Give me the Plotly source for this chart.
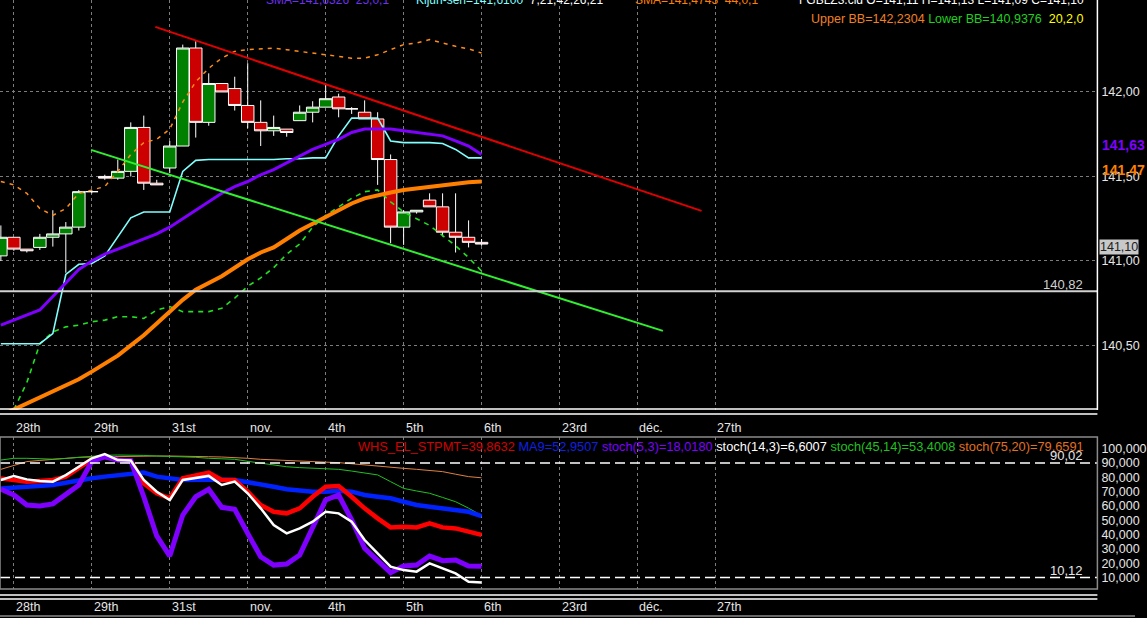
import plotly.graph_objects as go

W, H = 1147, 618

# candle index (one bar per session)
idx = list(range(38))

# OHLC
opens = [141.03, 141.14, 141.07, 141.08, 141.14, 141.16, 141.20, 141.41, 141.50, 141.49,
         141.53, 141.79, 141.46, 141.55, 141.68, 142.26, 141.82, 142.05, 142.02, 141.92,
         141.82, 141.77, 141.78, 141.83, 141.88, 141.91, 141.97, 141.90, 141.88, 141.84,
         141.60, 141.20, 141.29, 141.36, 141.32, 141.17, 141.14, 141.11]
highs = [141.21, 141.14, 141.07, 141.16, 141.30, 141.23, 141.42, 141.42, 141.51, 141.60,
         141.82, 141.86, 141.48, 141.71, 142.28, 142.30, 142.11, 142.05, 142.09, 142.17,
         141.95, 141.86, 141.78, 141.92, 141.945, 142.05, 141.99, 141.91, 141.95, 141.88,
         141.63, 141.30, 141.30, 141.40, 141.40, 141.40, 141.24, 141.13]
lows = [141.00, 141.06, 141.05, 141.065, 141.085, 140.93, 141.18, 141.40, 141.48, 141.48,
        141.50, 141.42, 141.45, 141.52, 141.68, 141.73, 141.80, 142.00, 141.89, 141.785,
        141.68, 141.74, 141.735, 141.83, 141.82, 141.91, 141.85, 141.87, 141.84, 141.45,
        141.105, 141.095, 141.28, 141.32, 141.145, 141.05, 141.08, 141.09]
closes = [141.14, 141.07, 141.06, 141.14, 141.16, 141.20, 141.41, 141.41, 141.49, 141.53,
          141.79, 141.46, 141.45, 141.68, 142.26, 141.82, 142.05, 142.00, 141.92, 141.82,
          141.77, 141.79, 141.76, 141.88, 141.91, 141.96, 141.90, 141.90, 141.84, 141.60,
          141.20, 141.29, 141.30, 141.32, 141.17, 141.14, 141.11, 141.10]

# overlays
sma25 = [140.62, 140.65, 140.68, 140.71, 140.79, 140.87, 140.95, 141.00, 141.04, 141.07,
         141.10, 141.13, 141.16, 141.20, 141.25, 141.30, 141.35, 141.40, 141.44, 141.47,
         141.51, 141.54, 141.58, 141.62, 141.66, 141.69, 141.72, 141.76, 141.78, 141.78,
         141.78, 141.77, 141.76, 141.75, 141.74, 141.71, 141.68, 141.63]
kijun = [140.51, 140.51, 140.51, 140.51, 140.57, 140.92, 140.98, 140.985, 141.03, 141.14,
         141.255, 141.29, 141.29, 141.29, 141.53, 141.595, 141.60, 141.60, 141.60, 141.60,
         141.60, 141.60, 141.605, 141.605, 141.61, 141.61, 141.74, 141.845, 141.845, 141.845,
         141.71, 141.70, 141.70, 141.70, 141.695, 141.66, 141.61, 141.61]
sma44 = [140.085, 140.12, 140.155, 140.19, 140.225, 140.26, 140.30, 140.345, 140.39, 140.44,
         140.50, 140.56, 140.63, 140.70, 140.77, 140.83, 140.87, 140.91, 140.96, 141.01,
         141.05, 141.08, 141.13, 141.18, 141.22, 141.26, 141.30, 141.34, 141.37, 141.39,
         141.405, 141.42, 141.43, 141.44, 141.45, 141.46, 141.465, 141.47]
bb_upper = [141.47, 141.45, 141.40, 141.31, 141.27, 141.31, 141.40, 141.42, 141.44, 141.53,
            141.63, 141.70, 141.72, 141.78, 141.94, 142.06, 142.14, 142.20, 142.24, 142.25,
            142.255, 142.26, 142.25, 142.24, 142.23, 142.22, 142.21, 142.20, 142.20, 142.22,
            142.25, 142.28, 142.29, 142.31, 142.29, 142.27, 142.255, 142.23]
bb_lower = [139.96, 140.12, 140.28, 140.51, 140.58, 140.61, 140.62, 140.64, 140.65, 140.67,
            140.67, 140.66, 140.71, 140.73, 140.70, 140.70, 140.70, 140.72, 140.78, 140.85,
            140.90, 140.96, 141.04, 141.10, 141.20, 141.27, 141.32, 141.37, 141.41, 141.42,
            141.35, 141.29, 141.25, 141.21, 141.15, 141.09, 141.02, 140.94]

# drawn trend lines (bar index, price)
resist_x = [11.89, 53.93]
resist_y = [142.385, 141.296]
support_x = [6.94, 50.96]
support_y = [141.657, 140.586]
level_line = 140.82

# lower pane oscillators
whs = [79.3, 78.2, 77.0, 77.5, 78.2, 80.5, 86.3, 92.6, 94.4, 92.1,
       91.7, 75.8, 68.9, 65.4, 79.3, 81.6, 83.3, 78.2, 78.2, 70.0,
       60.7, 56.0, 54.9, 58.4, 66.5, 73.5, 73.9, 66.5, 58.4, 51.4,
       45.1, 45.6, 45.1, 47.9, 45.1, 44.4, 42.1, 39.9]
ma9 = [72.3, 72.8, 73.5, 74.1, 74.7, 76.2, 78.2, 79.4, 80.5, 81.6,
       82.8, 83.3, 80.5, 79.4, 78.2, 78.4, 78.6, 78.4, 78.2, 76.8,
       75.4, 73.5, 71.7, 70.8, 70.0, 70.0, 70.7, 70.0, 67.7, 66.5,
       65.4, 63.0, 60.7, 59.5, 58.4, 57.2, 56.0, 53.0]
stoch_5_3 = [71.7, 67.7, 60.7, 60.0, 61.5, 67.7, 74.7, 91.0, 94.4, 92.1,
             91.7, 66.5, 39.1, 25.1, 53.7, 66.5, 71.7, 59.1, 57.7, 40.9,
             24.6, 18.8, 19.5, 25.8, 45.6, 64.2, 67.7, 50.3, 30.5, 22.3,
             13.5, 18.2, 18.8, 25.1, 21.9, 22.3, 18.2, 18.0]
stoch_14_3 = [78.2, 81.0, 78.6, 77.5, 77.0, 81.6, 87.4, 93.3, 96.3, 92.1,
              91.7, 78.2, 70.0, 64.2, 78.2, 79.8, 81.0, 74.7, 77.0, 68.9,
              58.4, 46.7, 40.9, 44.4, 49.1, 56.0, 54.9, 49.1, 36.3, 27.0,
              17.7, 15.3, 14.2, 20.0, 16.5, 13.0, 7.2, 6.6]
stoch_45_14 = [92.1, 93.3, 93.3, 93.0, 92.7, 93.2, 94.0, 94.6, 95.4, 95.6,
               95.6, 95.3, 94.9, 94.7, 94.4, 94.0, 93.3, 93.0, 92.6, 91.2,
               89.8, 88.5, 87.4, 86.8, 86.3, 86.0, 85.6, 84.4, 83.3, 81.7,
               77.0, 72.3, 70.5, 68.9, 66.0, 63.0, 58.5, 53.4]
stoch_75_20 = [85.6, 88.5, 91.0, 91.8, 92.6, 93.3, 94.0, 94.2, 94.4, 94.6,
               94.9, 94.9, 94.9, 94.9, 94.9, 94.6, 94.4, 94.2, 94.0, 93.3,
               92.6, 92.1, 91.7, 91.3, 91.0, 90.6, 90.3, 89.4, 88.6, 87.8,
               87.0, 86.3, 85.6, 84.8, 84.0, 82.2, 80.5, 79.7]
osc_high = 90.02
osc_low = 10.12

# date labels on the vertical grid
date_ticks = [1, 7, 13, 19, 25, 31, 37, 43, 49, 55]
date_labels = ['28th', '29th', '31st', 'nov.', '4th', '5th', '6th', '23rd', 'déc.', '27th']


def py(p):
    # pixel row -> paper y
    return 1 - p / H


XR = 1109 / W
FONT = 'Arial, Liberation Sans, sans-serif'
GRID = '#7c7c7c'

fig = go.Figure()

fig.add_trace(go.Candlestick(
    x=idx, open=opens, high=highs, low=lows, close=closes,
    increasing=dict(fillcolor='#008000', line=dict(color='white', width=1)),
    decreasing=dict(fillcolor='#cc0000', line=dict(color='white', width=1)),
    whiskerwidth=0, xaxis='x', yaxis='y', showlegend=False, hoverinfo='skip'))

top_lines = [
    (bb_upper, '#ff8c1a', 1.5, '4px,5px'),
    (bb_lower, '#22e022', 1.6, '5px,5px'),
    (kijun, '#80ffff', 1.6, 'solid'),
    (sma25, '#7f00ff', 3, 'solid'),
    (sma44, '#ff8000', 4, 'solid'),
]
for ys, col, w, dash in top_lines:
    fig.add_trace(go.Scatter(x=idx, y=ys, mode='lines', xaxis='x', yaxis='y',
                             line=dict(color=col, width=w, dash=dash),
                             showlegend=False, hoverinfo='skip'))

fig.add_trace(go.Scatter(x=resist_x, y=resist_y, mode='lines', xaxis='x', yaxis='y',
                         line=dict(color='#e00000', width=2), showlegend=False))
fig.add_trace(go.Scatter(x=support_x, y=support_y, mode='lines', xaxis='x', yaxis='y',
                         line=dict(color='#30ee30', width=2), showlegend=False))

low_lines = [
    (stoch_75_20, '#e08040', 1),
    (stoch_45_14, '#20c020', 1),
    (ma9, '#0022ff', 4.5),
    (whs, '#ff0000', 4.5),
    (stoch_5_3, '#7f00ff', 5),
    (stoch_14_3, '#ffffff', 2.5),
]
for ys, col, w in low_lines:
    fig.add_trace(go.Scatter(x=idx, y=ys, mode='lines', xaxis='x2', yaxis='y2',
                             line=dict(color=col, width=w),
                             showlegend=False, hoverinfo='skip'))

xr = [-0.066, 84.4]
xcommon = dict(range=xr, domain=[0, XR], tickvals=date_ticks, showticklabels=False,
               showgrid=True, gridcolor=GRID, griddash='3px,3px', gridwidth=1,
               zeroline=False, showline=False, ticks='')

fig.update_layout(
    width=W, height=H, autosize=False,
    margin=dict(l=0, r=0, t=0, b=0),
    paper_bgcolor='black', plot_bgcolor='black',
    font=dict(family=FONT, size=12, color='#e6e6e6'),
    separators=', ',
    boxgap=0.04, boxgroupgap=0,
    xaxis=dict(**xcommon, anchor='y', rangeslider=dict(visible=False)),
    xaxis2=dict(**xcommon, anchor='y2'),
    yaxis=dict(domain=[py(410), 1], range=[140.118, 142.544], side='right',
               tickvals=[140.5, 141.0, 141.5, 142.0], tickformat='.2f',
               showgrid=True, gridcolor=GRID, griddash='3px,3px', zeroline=False,
               ticks='', ticklabelstandoff=3, anchor='x',
               tickfont=dict(size=12.5, color='#e6e6e6')),
    yaxis2=dict(domain=[py(589), py(437)], range=[2.11, 108.16], side='right',
                tickvals=[10, 20, 30, 40, 50, 60, 70, 80, 90, 100], tickformat='.3f',
                showgrid=False, zeroline=False, ticks='', ticklabelstandoff=3,
                anchor='x2', tickfont=dict(size=12.5, color='#e6e6e6')),
    yaxis3=dict(domain=[py(589), py(437)], range=[2.11, 108.16], overlaying='y2',
                side='right', anchor='x2', tickvals=[20, 30, 40, 50, 60, 70, 80],
                showticklabels=False, showgrid=True, gridcolor=GRID,
                griddash='3px,3px', zeroline=False, ticks=''),
)

shapes = [
    # support level and oscillator bands
    dict(type='line', xref='paper', yref='y', x0=0, x1=XR, y0=level_line, y1=level_line,
         line=dict(color='#d2d2d2', width=2)),
    dict(type='line', xref='paper', yref='y2', x0=0, x1=XR, y0=osc_high, y1=osc_high,
         line=dict(color='white', width=1.5, dash='10px,5px')),
    dict(type='line', xref='paper', yref='y2', x0=0, x1=XR, y0=osc_low, y1=osc_low,
         line=dict(color='white', width=1.5, dash='10px,5px')),
    # frame lines
    dict(type='line', xref='paper', yref='paper', x0=XR, x1=XR, y0=py(410), y1=1,
         line=dict(color='white', width=1.5)),
    dict(type='line', xref='paper', yref='paper', x0=0, x1=XR, y0=py(409), y1=py(409),
         line=dict(color='white', width=1.5)),
    dict(type='line', xref='paper', yref='paper', x0=0, x1=XR, y0=py(414), y1=py(414),
         line=dict(color='white', width=1.5)),
    dict(type='rect', xref='paper', yref='paper', x0=0, x1=XR, y0=py(589), y1=py(437),
         line=dict(color='#8a8a8a', width=1.5)),
    dict(type='line', xref='paper', yref='paper', x0=0, x1=XR, y0=py(595), y1=py(595),
         line=dict(color='white', width=1.5)),
    dict(type='line', xref='paper', yref='paper', x0=0, x1=XR, y0=py(599), y1=py(599),
         line=dict(color='white', width=1.5)),
    dict(type='line', xref='paper', yref='paper', x0=0, x1=1, y0=py(616), y1=py(616),
         line=dict(color='#8a8a8a', width=1.5)),
]
fig.update_layout(shapes=shapes)

ann = []
for t, lab in zip(date_ticks, date_labels):
    for row in (428, 607):
        ann.append(dict(x=t, xref='x', y=py(row), yref='paper', text=lab,
                        showarrow=False, xanchor='left', yanchor='middle',
                        font=dict(size=12.5, color='#e6e6e6')))


def txt(x, y, text, color, anchor='left', size=12, **kw):
    ann.append(dict(x=x / W, xref='paper', y=py(y), yref='paper', text=text,
                    showarrow=False, xanchor=anchor, yanchor='middle',
                    font=dict(size=size, color=color, family=FONT), **kw))


# header of the price pane
txt(267, 0, 'SMA=141,6326  25,0,1', '#7030f0')
txt(418, 0, '<span style="color:#80ffff">Kijun-sen=141,6100</span>  7,21,42,26,21', '#ffffff')
txt(640, 0, 'SMA=141,4743  44,0,1', '#ff8000')
txt(1097, 0, 'FGBLZ3.cld O=141,11 H=141,13 L=141,09 C=141,10', '#ffffff', anchor='right')
txt(1097, 19, '<span style="color:#f08020">Upper BB=142,2304</span> '
              '<span style="color:#20d020">Lower BB=140,9376</span>  '
              '<span style="color:#ffff00">20,2,0</span>', '#ffffff', anchor='right',
    size=12.5)

# header of the oscillator pane
txt(1097, 446, '<span style="color:#d40000">WHS_EL_STPMT=39,8632</span> '
               '<span style="color:#1020e0">MA9=52,9507</span> '
               '<span style="color:#7f00ff">stoch(5,3)=18,0180</span> '
               '<span style="color:#ffffff">stoch(14,3)=6,6007</span> '
               '<span style="color:#20c020">stoch(45,14)=53,4008</span> '
               '<span style="color:#e07020">stoch(75,20)=79,6591</span>', '#ffffff',
    anchor='right', size=12.8)

# level labels
txt(1096, 284, '140,82', '#d0d0d0', anchor='right', size=13)
txt(1096, 455, '90,02', '#e6e6e6', anchor='right', size=13)
txt(1096, 570, '10,12', '#e6e6e6', anchor='right', size=13)

# price scale markers (run past the right edge like the original)
txt(1112, 145, '<b>141,63</b>', '#7f00ff', size=14)
txt(1112, 170, '<b>141,47</b>', '#ff8000', size=14)
txt(1111, 247, '141,10', '#202020', bgcolor='#c8c8c8', borderpad=0, size=12.5)

fig.update_layout(annotations=ann)

# the page has a default 8px body margin; drop it so the chart sits at the corner
fig.write_html("out.html", config={'displayModeBar': False},
               post_script="document.body.style.margin='0';")
